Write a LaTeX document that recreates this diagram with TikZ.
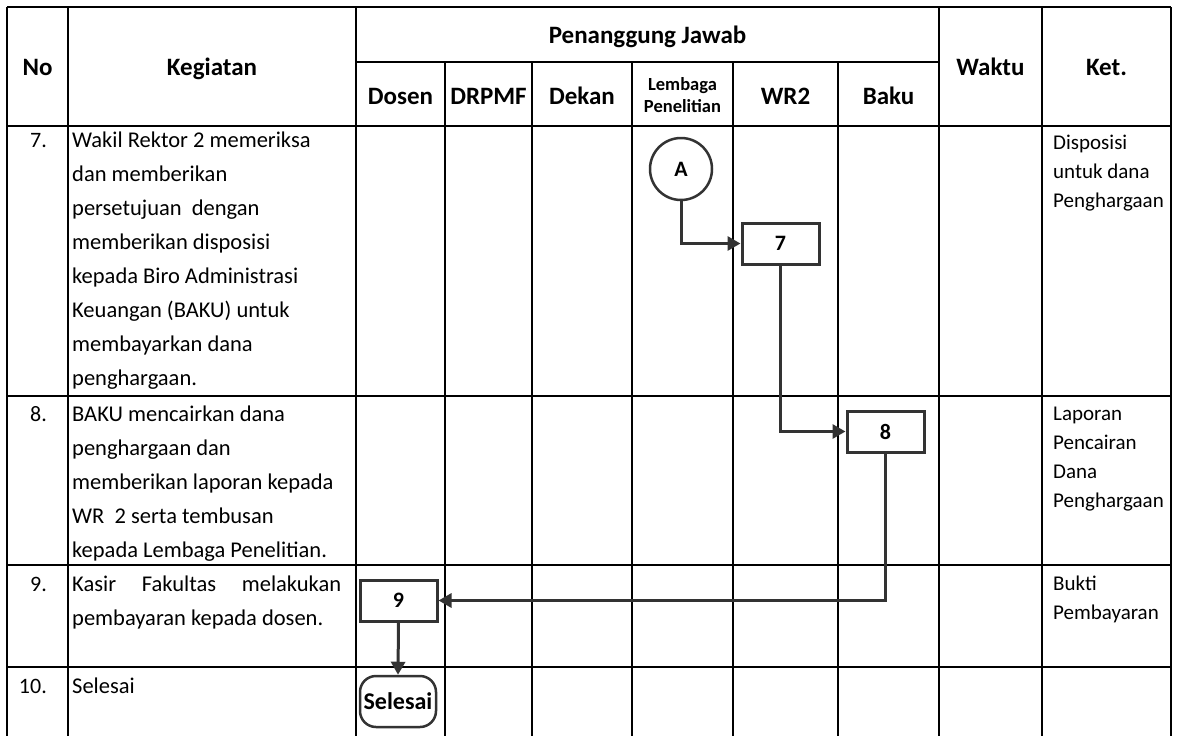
\documentclass[tikz,border=0pt]{standalone}
\usepackage{fontspec}
\setmainfont{Carlito}
\usetikzlibrary{arrows.meta, positioning}

\begin{document}
\begin{tikzpicture}[x=1pt, y=-1pt,
        garis/.style={line width=2pt, black},
        judul/.style={font=\fontsize{25}{30}\selectfont\bfseries, inner sep=0pt, anchor=base},
        isi/.style={font=\fontsize{22.5}{34}\selectfont, inner sep=0pt, anchor=base west},
        nomor/.style={font=\fontsize{22}{26}\selectfont, inner sep=0pt, anchor=base east},
        ket/.style={font=\fontsize{21}{29}\selectfont, inner sep=0pt, anchor=base west},
        langkah/.style={draw=abu tua, line width=3pt, fill=white, minimum width=77pt, minimum height=41pt, inner sep=0pt, font=\fontsize{22}{26}\selectfont\bfseries},
        titik/.style={circle, draw=abu tua, line width=2.5pt, minimum size=62pt, inner sep=0pt, font=\fontsize{22}{26}\selectfont\bfseries},
        akhir/.style={rectangle, rounded corners=16pt, draw=abu tua, line width=2.5pt, minimum width=76pt, minimum height=51pt, inner sep=0pt, font=\fontsize{24}{28}\selectfont\bfseries},
        alur/.style={draw=abu tua, line width=3pt, -{Triangle[length=13pt, width=14pt]}}
    ]
        \definecolor{abu tua}{rgb}{0.2, 0.2, 0.2}
        \def\lajur#1{\parbox[t]{284pt}{\raggedright #1}}
        \def\sisi#1{\parbox[t]{125pt}{\raggedright #1}}

        \useasboundingbox (0,0) rectangle (1178,736);
        \fill [white] (0,0) rectangle (1178,736);

        \draw [garis] (7,7) -- (1171,7);
        \draw [garis] (356,62) -- (939,62);
        \foreach \y in {126, 396, 565, 667}
            \draw [garis] (7,\y) -- (1171,\y);
        \foreach \x in {7, 68, 356, 939, 1042, 1171}
            \draw [garis] (\x,7) -- (\x,736);
        \foreach \x in {445, 532, 632, 733, 838}
            \draw [garis] (\x,62) -- (\x,736);

        \node [judul] (no) at (37.5,75) {No};
        \node [judul] (kegiatan) at (212,75) {Kegiatan};
        \node [judul] (pj) at (647.5,43) {Penanggung Jawab};
        \node [judul] (dosen) at (400.5,104) {Dosen};
        \node [judul] (drpmf) at (488.5,104) {DRPMF};
        \node [judul] (dekan) at (582,104) {Dekan};
        \node [font=\fontsize{18.5}{22}\selectfont\bfseries, align=center, inner sep=0pt] (lembaga) at (682.5,95) {Lembaga\\Penelitian};
        \node [judul] (wr2) at (785.5,104) {WR2};
        \node [judul] (baku) at (888.5,104) {Baku};
        \node [judul] (waktu) at (990.5,75) {Waktu};
        \node [judul] (ketjudul) at (1106.5,75) {Ket.};

        \node [nomor] (n7) at (47,147) {7.};
        \node [nomor] (n8) at (47,421) {8.};
        \node [nomor] (n9) at (47,591) {9.};
        \node [nomor] (n10) at (47,693) {10.};

        \node [isi] (k7) at (72,147) {\lajur{Wakil Rektor 2 memeriksa\\ dan memberikan\\ persetujuan~ dengan\\ memberikan disposisi\\ kepada Biro Administrasi\\ Keuangan (BAKU) untuk\\ membayarkan dana\\ penghargaan.}};
        \node [isi] (k8) at (72,421) {\lajur{BAKU mencairkan dana\\ penghargaan dan\\ memberikan laporan kepada\\ WR~ 2 serta tembusan\\ kepada Lembaga Penelitian.}};
        \node [isi] (k9) at (72,591) {\lajur{\makebox[269pt][s]{Kasir Fakultas melakukan}\\ pembayaran kepada dosen.}};
        \node [isi] (k10) at (72,693) {\lajur{Selesai}};

        \node [ket] (ket7) at (1053,149) {\sisi{Disposisi\\ untuk dana\\ Penghargaan}};
        \node [ket] (ket8) at (1053,420) {\sisi{Laporan\\ Pencairan\\ Dana\\ Penghargaan}};
        \node [ket] (ket9) at (1053,590) {\sisi{Bukti\\ Pembayaran}};

        \node [titik] (A) at (681,169) {A};
        \node [langkah] (s7) at (780.5,243.5) {7};
        \node [langkah] (s8) at (885.5,431.5) {8};
        \node [langkah] (s9) at (398.5,600.5) {9};
        \node [akhir] (selesai) at (398,701.5) {Selesai};

        \draw [alur] (A.south) |- (s7.west);
        \draw [alur] (s7.south) |- (s8.west);
        \draw [alur] (s8.south) |- (s9.east);
        \draw [alur] (s9.south) -- (selesai.north);
    \end{tikzpicture}
\end{document}
